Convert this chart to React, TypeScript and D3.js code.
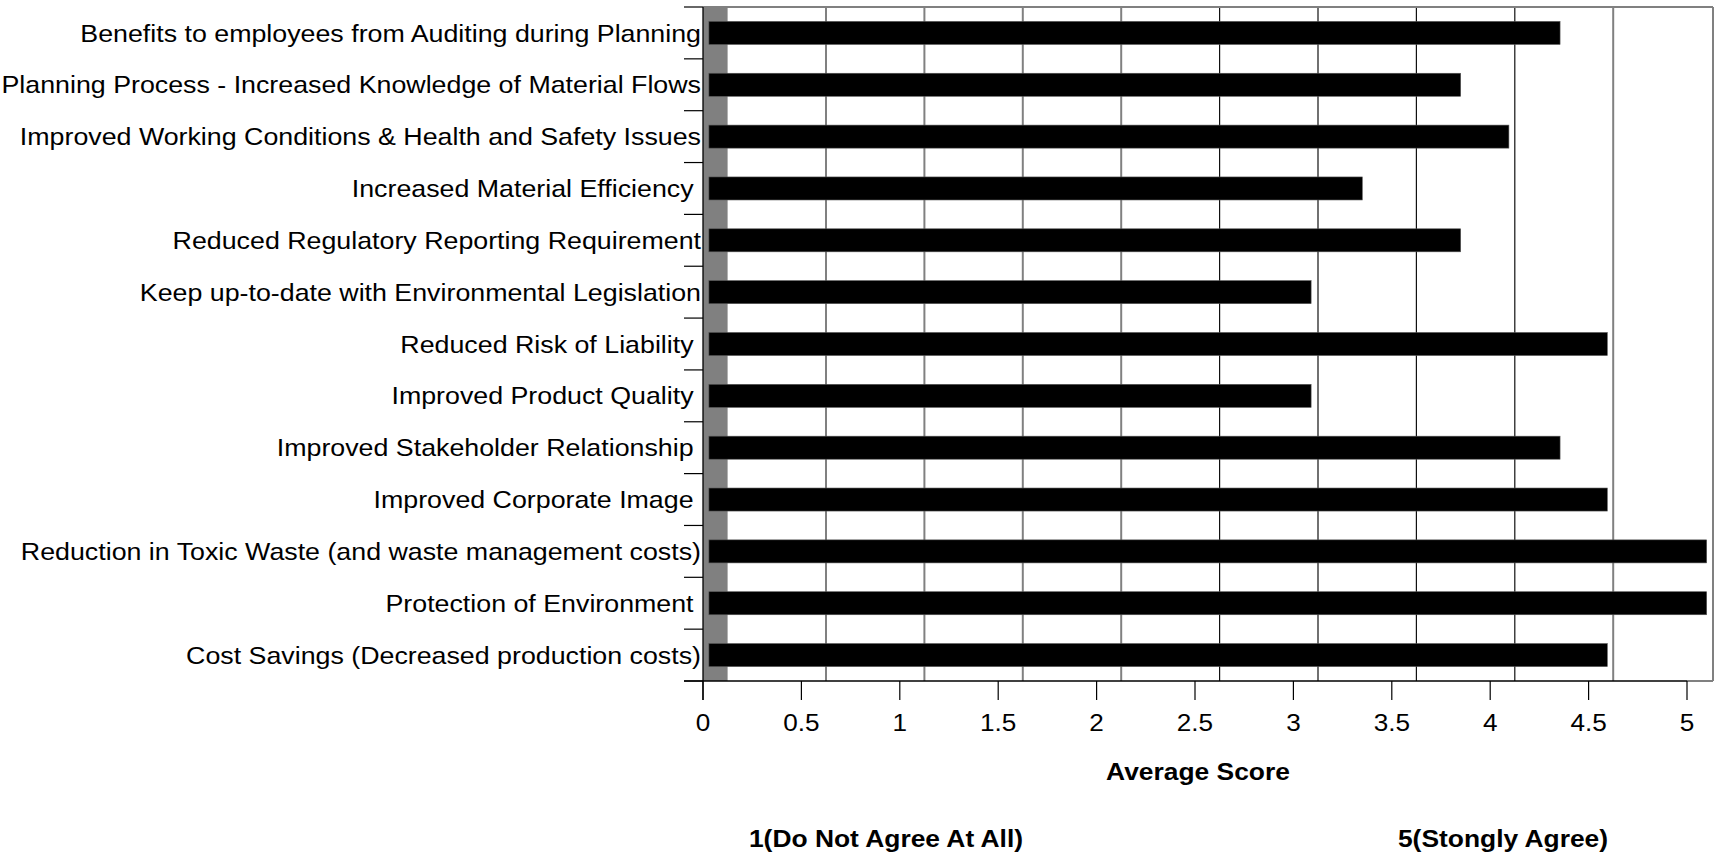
import React from "react";
import * as d3 from "d3";

const categories: string[] = [
  "Benefits to employees from Auditing during Planning",
  "Planning Process - Increased Knowledge of Material Flows",
  "Improved Working Conditions & Health and Safety Issues",
  "Increased Material Efficiency ",
  "Reduced Regulatory Reporting Requirement",
  "Keep up-to-date with Environmental Legislation",
  "Reduced Risk of Liability ",
  "Improved Product Quality ",
  "Improved Stakeholder Relationship ",
  "Improved Corporate Image ",
  "Reduction in Toxic Waste (and waste management costs)",
  "Protection of Environment ",
  "Cost Savings (Decreased production costs)",
];

const scores: number[] = [4.355, 3.85, 4.095, 3.35, 3.85, 3.09, 4.595, 3.09, 4.355, 4.595, 5.1, 5.1, 4.595];

const xTicks: number[] = [0, 0.5, 1, 1.5, 2, 2.5, 3, 3.5, 4, 4.5, 5];
const gridValues: number[] = [0.625, 1.125, 1.625, 2.125, 2.625, 3.125, 3.625, 4.125, 4.625];
const gridDark: boolean[] = [false, false, false, false, true, true, true, true, false];
const bandEnd = 0.125;
const barStart = 0.03;

const xTitle = "Average Score";
const lowLabel = "1(Do Not Agree At All)";
const highLabel = "5(Stongly Agree)";

const W = 1715;
const H = 855;
const plotLeft = 703;
const plotTop = 7;
const plotBottom = 681;
const plotRight = 1713;

export default function App() {
  const x = d3.scaleLinear().domain([0, 5]).range([plotLeft, 1687]);
  const y = d3
    .scaleBand<string>()
    .domain(categories)
    .range([plotTop, plotBottom])
    .paddingInner(0.556)
    .paddingOuter(0.278);
  const step = y.step();
  const boundaries = d3.range(categories.length + 1).map((i) => plotTop + i * step);
  const font = "'Liberation Sans', Arial, sans-serif";
  const sx = 1.135;

  return (
    <svg
      width={W}
      height={H}
      style={{ position: "absolute", left: 0, top: 0, background: "#fff" }}
      fontFamily={font}
    >
      <rect x={0} y={0} width={W} height={H} fill="#fff" />
      <rect
        x={x(0)}
        y={plotTop}
        width={x(bandEnd) - x(0)}
        height={plotBottom - plotTop}
        fill="#808080"
      />
      {gridValues.map((g, i) => (
        <line
          key={"g" + i}
          x1={x(g)}
          x2={x(g)}
          y1={plotTop}
          y2={plotBottom}
          stroke={gridDark[i] ? "#111" : "#808080"}
          strokeWidth={gridDark[i] ? 1.2 : 2}
        />
      ))}
      <line x1={plotLeft} x2={plotRight} y1={plotTop} y2={plotTop} stroke="#808080" strokeWidth={2} />
      <line x1={plotRight} x2={plotRight} y1={plotTop} y2={plotBottom} stroke="#808080" strokeWidth={2} />
      <line x1={x(5)} x2={plotRight} y1={plotBottom} y2={plotBottom} stroke="#808080" strokeWidth={2} />
      {categories.map((c, i) => (
        <rect
          key={"b" + i}
          x={x(barStart)}
          y={y(c)!}
          width={x(scores[i]) - x(barStart)}
          height={y.bandwidth()}
          fill="#000"
          stroke="#555"
          strokeWidth={0.6}
        />
      ))}
      <line x1={plotLeft} x2={plotLeft} y1={plotTop} y2={700} stroke="#000" strokeWidth={1.3} />
      <line x1={684} x2={x(5)} y1={plotBottom} y2={plotBottom} stroke="#000" strokeWidth={1.3} />
      {boundaries.map((b, i) => (
        <line key={"yt" + i} x1={684} x2={plotLeft} y1={b} y2={b} stroke="#000" strokeWidth={1.2} />
      ))}
      {xTicks.map((t, i) => (
        <g key={"xt" + i}>
          <line x1={x(t)} x2={x(t)} y1={plotBottom} y2={700} stroke="#000" strokeWidth={1.2} />
          <text
            transform={`translate(${x(t)},730.5) scale(1.08,1)`}
            textAnchor="middle"
            fontSize={24.2}
            fill="#000"
          >
            {t}
          </text>
        </g>
      ))}
      {categories.map((c, i) => (
        <text
          key={"l" + i}
          transform={`translate(701,${y(c)! + y.bandwidth() / 2 + 8.6}) scale(${sx},1)`}
          textAnchor="end"
          fontSize={23.6}
          fill="#000"
          style={{ whiteSpace: "pre" }}
        >
          {c}
        </text>
      ))}
      <text
        transform={`translate(1198,780) scale(1.1,1)`}
        textAnchor="middle"
        fontSize={24}
        fontWeight="bold"
        fill="#000"
      >
        {xTitle}
      </text>
      <text
        transform={`translate(886,847) scale(1.1,1)`}
        textAnchor="middle"
        fontSize={24}
        fontWeight="bold"
        fill="#000"
      >
        {lowLabel}
      </text>
      <text
        transform={`translate(1503,847) scale(1.1,1)`}
        textAnchor="middle"
        fontSize={24}
        fontWeight="bold"
        fill="#000"
      >
        {highLabel}
      </text>
    </svg>
  );
}
